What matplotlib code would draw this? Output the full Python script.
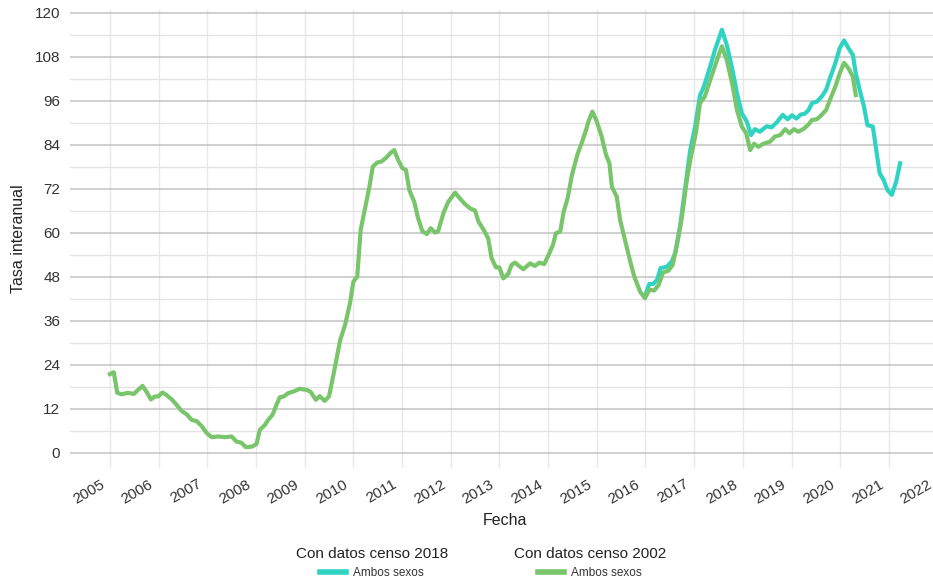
import matplotlib
matplotlib.use("Agg")
import matplotlib.pyplot as plt
import matplotlib.transforms as mtransforms
from matplotlib.lines import Line2D
from matplotlib.ticker import MultipleLocator

plt.rcParams['font.family'] = ['Liberation Sans', 'DejaVu Sans']

# Con datos censo 2002 (Ambos sexos)
fecha_2002 = [2005.00, 2005.08, 2005.15, 2005.24, 2005.37, 2005.49, 2005.58, 2005.67, 2005.77, 2005.84,
              2005.92, 2005.99, 2006.08, 2006.16, 2006.27, 2006.37, 2006.47, 2006.58, 2006.68, 2006.78,
              2006.88, 2006.99, 2007.09, 2007.22, 2007.36, 2007.50, 2007.60, 2007.70, 2007.79, 2007.91,
              2008.01, 2008.08, 2008.18, 2008.25, 2008.34, 2008.42, 2008.49, 2008.57, 2008.66, 2008.76,
              2008.90, 2009.04, 2009.12, 2009.23, 2009.31, 2009.41, 2009.50, 2009.61, 2009.73, 2009.83,
              2009.93, 2010.00, 2010.08, 2010.15, 2010.24, 2010.33, 2010.40, 2010.49, 2010.58, 2010.68,
              2010.77, 2010.84, 2010.92, 2011.01, 2011.08, 2011.15, 2011.25, 2011.33, 2011.42, 2011.51,
              2011.59, 2011.68, 2011.74, 2011.85, 2011.95, 2012.09, 2012.19, 2012.29, 2012.40, 2012.50,
              2012.57, 2012.68, 2012.77, 2012.84, 2012.93, 2013.00, 2013.08, 2013.18, 2013.25, 2013.32,
              2013.49, 2013.63, 2013.73, 2013.82, 2013.92, 2014.01, 2014.10, 2014.16, 2014.25, 2014.32,
              2014.40, 2014.49, 2014.60, 2014.70, 2014.78, 2014.83, 2014.91, 2015.00, 2015.10, 2015.19,
              2015.26, 2015.31, 2015.41, 2015.48, 2015.58, 2015.68, 2015.77, 2015.89, 2015.99, 2016.08,
              2016.18, 2016.27, 2016.36, 2016.47, 2016.56, 2016.64, 2016.75, 2016.85, 2016.93, 2017.04,
              2017.12, 2017.22, 2017.33, 2017.47, 2017.57, 2017.67, 2017.78, 2017.88, 2017.98, 2018.07,
              2018.15, 2018.23, 2018.32, 2018.42, 2018.56, 2018.66, 2018.77, 2018.87, 2018.96, 2019.05,
              2019.14, 2019.25, 2019.35, 2019.42, 2019.52, 2019.62, 2019.71, 2019.79, 2019.90, 2019.99,
              2020.08, 2020.17, 2020.26, 2020.32]
tasa_2002 = [21.5, 22.0, 16.4, 16.0, 16.4, 16.1, 17.2, 18.3, 16.3, 14.6,
             15.4, 15.4, 16.5, 15.8, 14.6, 13.1, 11.5, 10.5, 9.0, 8.7,
             7.4, 5.4, 4.3, 4.5, 4.3, 4.5, 3.1, 2.8, 1.6, 1.7,
             2.4, 6.3, 7.6, 9.0, 10.4, 13.1, 15.2, 15.4, 16.3, 16.7,
             17.5, 17.2, 16.7, 14.5, 15.5, 14.2, 15.4, 22.6, 30.8, 34.9,
             40.8, 46.7, 48.1, 60.8, 66.7, 72.6, 78.1, 79.2, 79.5, 80.6,
             81.9, 82.6, 79.9, 77.6, 77.2, 71.7, 68.5, 64.0, 60.4, 59.7,
             61.3, 60.1, 60.4, 65.4, 68.5, 71.0, 69.4, 67.9, 66.7, 66.1,
             63.1, 60.8, 58.5, 53.1, 50.6, 50.6, 47.6, 48.8, 51.3, 51.9,
             50.1, 51.7, 51.0, 51.9, 51.5, 54.0, 56.7, 59.9, 60.4, 65.8,
             69.4, 75.8, 81.3, 84.9, 88.1, 90.4, 93.1, 90.4, 86.3, 81.3,
             79.0, 72.6, 69.9, 63.5, 58.1, 52.6, 48.1, 44.0, 42.2, 44.5,
             44.3, 45.8, 49.2, 49.7, 51.3, 56.3, 64.4, 74.5, 80.5, 87.6,
             95.4, 97.2, 101.7, 107.2, 110.9, 107.2, 100.8, 93.5, 89.0, 87.2,
             82.6, 84.3, 83.5, 84.3, 84.9, 86.3, 86.7, 88.3, 87.2, 88.3,
             87.6, 88.4, 89.6, 90.8, 91.0, 92.2, 93.5, 96.3, 99.9, 103.5,
             106.4, 104.9, 102.6, 97.6]

# Con datos censo 2018 (Ambos sexos)
fecha_2018 = [2016.01, 2016.08, 2016.16, 2016.24, 2016.31, 2016.44, 2016.54, 2016.61, 2016.71, 2016.81,
              2016.92, 2017.02, 2017.12, 2017.20, 2017.33, 2017.43, 2017.57, 2017.67, 2017.78, 2017.88,
              2017.98, 2018.08, 2018.17, 2018.25, 2018.35, 2018.49, 2018.59, 2018.70, 2018.82, 2018.92,
              2019.01, 2019.10, 2019.19, 2019.27, 2019.35, 2019.42, 2019.52, 2019.62, 2019.71, 2019.79,
              2019.90, 2019.99, 2020.08, 2020.17, 2020.26, 2020.32, 2020.41, 2020.49, 2020.56, 2020.67,
              2020.72, 2020.81, 2020.89, 2020.97, 2021.06, 2021.15, 2021.23]
tasa_2018 = [43.5, 46.1, 46.1, 47.2, 50.4, 50.8, 52.2, 54.5, 61.7, 71.7,
             82.6, 89.0, 97.5, 99.9, 105.4, 110.0, 115.4, 111.3, 104.9, 98.1,
             92.6, 90.4, 86.7, 88.3, 87.6, 89.1, 88.8, 90.2, 92.2, 91.0,
             92.1, 91.2, 92.3, 92.5, 93.5, 95.4, 95.8, 97.2, 99.0, 102.2,
             106.3, 110.4, 112.5, 110.4, 108.5, 103.5, 98.5, 94.4, 89.4, 89.0,
             84.5, 76.3, 74.5, 71.7, 70.4, 74.0, 79.0]

anios = list(range(2005, 2023))
y_ticks = list(range(0, 121, 12))

c_2018 = '#2fd3c2'
c_2002 = '#79c56b'

W, H = 933, 582
fig = plt.figure(figsize=(W / 100, H / 100), dpi=100)
ax = fig.add_axes([70 / W, 1 - 468 / H, (940 - 70) / W, (468 - 10) / H])

ax.plot(fecha_2018, tasa_2018, color=c_2018, lw=3.0, zorder=3, solid_joinstyle='round')
ax.plot(fecha_2002, tasa_2002, color=c_2002, lw=3.0, zorder=4, solid_joinstyle='round')

ax.set_xlim(2004.18, 2022.05)
ax.set_ylim(-4.1, 120.8)
ax.set_xticks(anios)
ax.set_xticklabels([str(a) for a in anios])
ax.set_yticks(y_ticks)
ax.yaxis.set_minor_locator(MultipleLocator(6))

ax.grid(axis='y', which='major', color='#c2c2c2', lw=1.1, zorder=1)
ax.grid(axis='y', which='minor', color='#e3e3e3', lw=1.0, zorder=1)
ax.grid(axis='x', which='major', color='#e8e8e8', lw=1.0, zorder=1)

for s in ax.spines.values():
    s.set_visible(False)
ax.tick_params(axis='both', which='both', length=0, colors='#333333', labelsize=11)
ax.tick_params(axis='y', pad=7)
ax.tick_params(axis='x', pad=0)

offset = mtransforms.ScaledTranslation(-10 / 100, -9 / 100, fig.dpi_scale_trans)
for lab in ax.get_xticklabels():
    lab.set_rotation(30)
    lab.set_rotation_mode('anchor')
    lab.set_ha('right')
    lab.set_va('top')
    lab.set_transform(lab.get_transform() + offset)

ax.set_xlabel('Fecha', fontsize=11.5, color='#222222', labelpad=5)
ax.set_ylabel('Tasa interanual', fontsize=11.5, color='#222222', labelpad=6)

h1 = Line2D([], [], color=c_2018, lw=4)
h2 = Line2D([], [], color=c_2002, lw=4)
leg1 = fig.legend([h1], ['Ambos sexos'], title='Con datos censo 2018', loc='center',
                  bbox_to_anchor=(372 / W, 1 - 563 / H), frameon=False, fontsize=8.5,
                  title_fontsize=11, handlelength=2.2, handletextpad=0.6, borderpad=0, labelspacing=0.5)
leg2 = fig.legend([h2], ['Ambos sexos'], title='Con datos censo 2002', loc='center',
                  bbox_to_anchor=(590 / W, 1 - 563 / H), frameon=False, fontsize=8.5,
                  title_fontsize=11, handlelength=2.2, handletextpad=0.6, borderpad=0, labelspacing=0.5)
for lg in (leg1, leg2):
    lg.get_title().set_color('#222222')
    for t in lg.get_texts():
        t.set_color('#333333')

fig.savefig('out.png', dpi=100)
